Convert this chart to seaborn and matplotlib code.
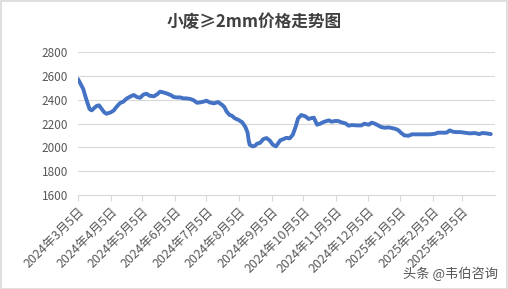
import matplotlib
matplotlib.use("Agg")
import matplotlib.pyplot as plt
import matplotlib.transforms as mtransforms
from matplotlib.patches import Rectangle
import pandas as pd
import seaborn as sns

dates = [
    "2024-03-05", "2024-03-07", "2024-03-10", "2024-03-12", "2024-03-14", "2024-03-16",
    "2024-03-18", "2024-03-20", "2024-03-23", "2024-03-25", "2024-03-28", "2024-03-30",
    "2024-04-01", "2024-04-05", "2024-04-08", "2024-04-11", "2024-04-14", "2024-04-17",
    "2024-04-20", "2024-04-24", "2024-04-27", "2024-04-30", "2024-05-03", "2024-05-06",
    "2024-05-09", "2024-05-12", "2024-05-16", "2024-05-19", "2024-05-22", "2024-05-25",
    "2024-05-28", "2024-06-01", "2024-06-04", "2024-06-07", "2024-06-10", "2024-06-13",
    "2024-06-16", "2024-06-20", "2024-06-23", "2024-06-26", "2024-06-29", "2024-07-02",
    "2024-07-05", "2024-07-08", "2024-07-12", "2024-07-15", "2024-07-16", "2024-07-20",
    "2024-07-22", "2024-07-24", "2024-07-27", "2024-07-29", "2024-08-01", "2024-08-04",
    "2024-08-08", "2024-08-11", "2024-08-13", "2024-08-14", "2024-08-15", "2024-08-18",
    "2024-08-20", "2024-08-22", "2024-08-25", "2024-08-28", "2024-08-31", "2024-09-03",
    "2024-09-06", "2024-09-09", "2024-09-13", "2024-09-16", "2024-09-19", "2024-09-22",
    "2024-09-25", "2024-09-28", "2024-09-30", "2024-10-03", "2024-10-07", "2024-10-10",
    "2024-10-13", "2024-10-15", "2024-10-18", "2024-10-21", "2024-10-24", "2024-10-29",
    "2024-11-01", "2024-11-04", "2024-11-07", "2024-11-10", "2024-11-14", "2024-11-17",
    "2024-11-20", "2024-11-25", "2024-11-29", "2024-12-02", "2024-12-06", "2024-12-09",
    "2024-12-12", "2024-12-15", "2024-12-18", "2024-12-21", "2024-12-25", "2024-12-28",
    "2024-12-31", "2025-01-03", "2025-01-06", "2025-01-09", "2025-01-13", "2025-01-16",
    "2025-01-21", "2025-01-27", "2025-02-02", "2025-02-07", "2025-02-10", "2025-02-15",
    "2025-02-18", "2025-02-21", "2025-02-24", "2025-02-27", "2025-03-03", "2025-03-07",
    "2025-03-12", "2025-03-17", "2025-03-21", "2025-03-24", "2025-03-28", "2025-04-01",
]
prices = [
    2573, 2540, 2489, 2428, 2372, 2321,
    2310, 2327, 2349, 2352, 2316, 2293,
    2282, 2293, 2310, 2344, 2372, 2383,
    2408, 2428, 2439, 2422, 2416, 2442,
    2450, 2433, 2428, 2444, 2467, 2461,
    2453, 2439, 2422, 2419, 2419, 2411,
    2411, 2405, 2394, 2374, 2377, 2383,
    2391, 2377, 2369, 2377, 2380, 2355,
    2338, 2302, 2271, 2266, 2243, 2232,
    2210, 2170, 2125, 2064, 2022, 2008,
    2013, 2030, 2038, 2069, 2078, 2058,
    2022, 2008, 2058, 2069, 2080, 2075,
    2106, 2181, 2243, 2271, 2260, 2238,
    2246, 2249, 2190, 2198, 2212, 2226,
    2215, 2221, 2221, 2210, 2201, 2182,
    2187, 2184, 2184, 2198, 2190, 2207,
    2198, 2184, 2170, 2165, 2167, 2162,
    2156, 2145, 2120, 2100, 2097, 2109,
    2109, 2109, 2109, 2114, 2123, 2123,
    2123, 2142, 2131, 2128, 2128, 2123,
    2117, 2120, 2111, 2120, 2117, 2111,
]
tick_dates = [
    "2024-03-05", "2024-04-05", "2024-05-05", "2024-06-05", "2024-07-05",
    "2024-08-05", "2024-09-05", "2024-10-05", "2024-11-05", "2024-12-05",
    "2025-01-05", "2025-02-05", "2025-03-05",
]
tick_labels = [
    "2024年3月5日", "2024年4月5日", "2024年5月5日", "2024年6月5日", "2024年7月5日",
    "2024年8月5日", "2024年9月5日", "2024年10月5日", "2024年11月5日", "2024年12月5日",
    "2025年1月5日", "2025年2月5日", "2025年3月5日",
]
y_ticks = [1600, 1800, 2000, 2200, 2400, 2600, 2800]
title = "小废≥2mm价格走势图"
watermark = "头条 @韦伯咨询"

sns.set_theme(style="white")
plt.rcParams["font.family"] = ["Noto Sans CJK SC", "DejaVu Sans"]

df = pd.DataFrame({"date": pd.to_datetime(dates), "price": prices})

W, H = 508, 289
fig = plt.figure(figsize=(W / 100, H / 100), dpi=100)
ax = fig.add_axes([78 / W, 1 - 195 / H, (495 - 78) / W, (195 - 52) / H])

sns.lineplot(data=df, x="date", y="price", ax=ax, color="#4472C4", linewidth=2.8)

ax.set_ylim(1600, 2800)
ax.set_yticks(y_ticks)
ax.set_xlim(pd.Timestamp("2024-03-05"), pd.Timestamp("2025-04-05"))
ax.set_xticks(pd.to_datetime(tick_dates))
ax.set_xticklabels(tick_labels, rotation=45, ha="right", rotation_mode="anchor",
                   fontsize=9, color="#595959")
offset = mtransforms.ScaledTranslation(0.03, -0.03, fig.dpi_scale_trans)
for lbl in ax.get_xticklabels():
    lbl.set_transform(lbl.get_transform() + offset)
ax.tick_params(axis="y", labelsize=8.5, labelcolor="#595959", length=0, pad=7)
ax.tick_params(axis="x", length=4, width=0.8, color="#d9d9d9", direction="out",
               bottom=True, pad=3)
ax.set_xlabel("")
ax.set_ylabel("")
ax.grid(axis="y", color="#d9d9d9", linewidth=0.8)
ax.grid(axis="x", visible=False)
for s in ["top", "right", "left"]:
    ax.spines[s].set_visible(False)
ax.spines["bottom"].set_color("#d9d9d9")
ax.spines["bottom"].set_linewidth(0.8)

fig.text(254 / W, 1 - 22 / H, title, ha="center", va="center", fontsize=12,
         fontweight="bold", color="#404040")
fig.text(498 / W, 1 - 274 / H, watermark, ha="right", va="center", fontsize=9.5,
         color="#555555")
fig.patches.append(Rectangle((0.5 / W, 0.5 / H), 1 - 1.5 / W, 1 - 1.5 / H,
                             transform=fig.transFigure, fill=False,
                             edgecolor="#d9d9d9", linewidth=1.2))

fig.savefig("out.png", dpi=100)
